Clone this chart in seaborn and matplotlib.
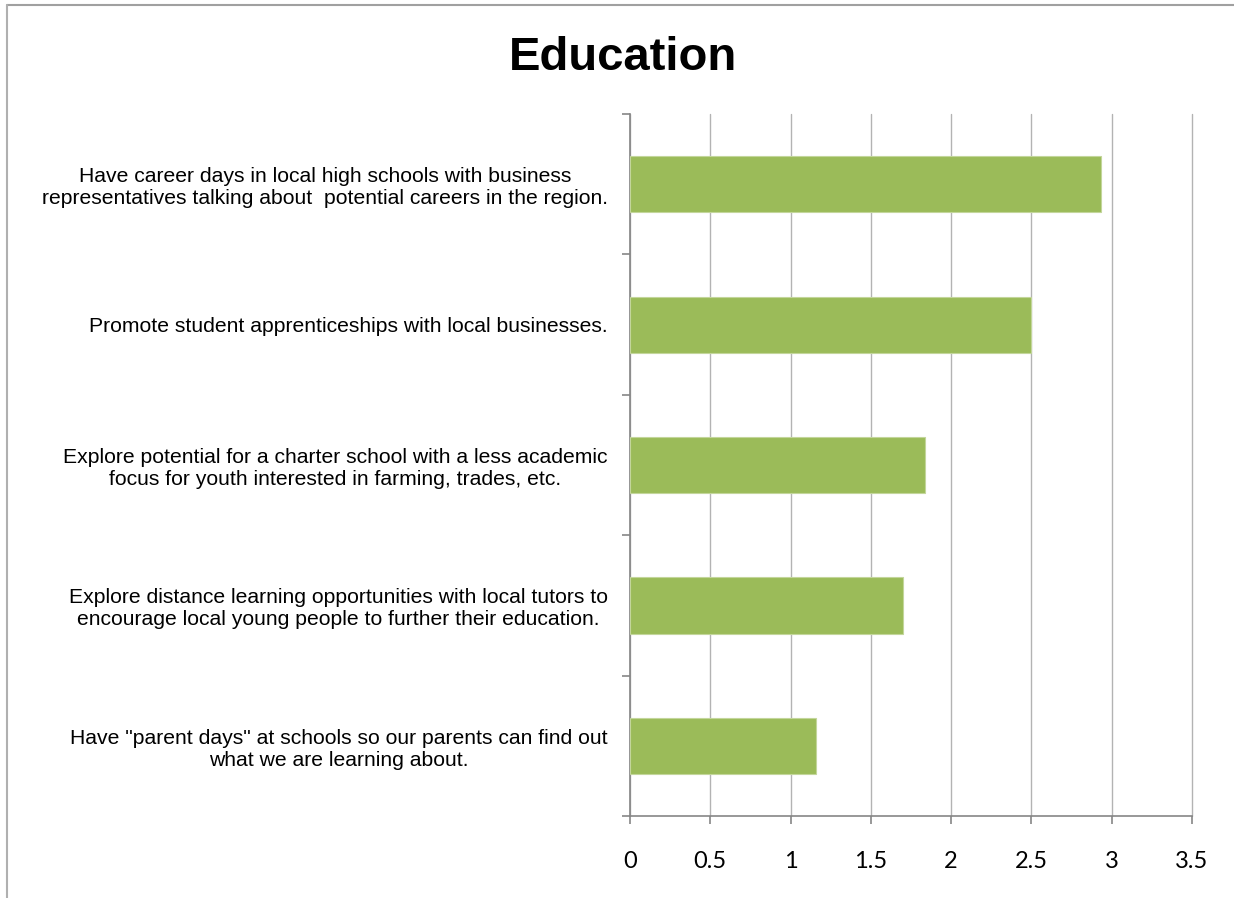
import matplotlib
matplotlib.use("Agg")
import matplotlib.pyplot as plt
from matplotlib.lines import Line2D
from matplotlib.ticker import FixedLocator
import seaborn as sns
import pandas as pd

# Survey items and their average scores
categories = [
    "Have career days in local high schools with business\nrepresentatives talking about  potential careers in the region.",
    "Promote student apprenticeships with local businesses.",
    "Explore potential for a charter school with a less academic\nfocus for youth interested in farming, trades, etc.",
    "Explore distance learning opportunities with local tutors to\nencourage local young people to further their education.",
    "Have \"parent days\" at schools so our parents can find out\nwhat we are learning about.",
]
scores = [2.93, 2.50, 1.84, 1.70, 1.16]
x_ticks = [0, 0.5, 1, 1.5, 2, 2.5, 3, 3.5]
x_tick_labels = ["0", "0.5", "1", "1.5", "2", "2.5", "3", "3.5"]
title = "Education"

df = pd.DataFrame({"item": categories, "score": scores})

sns.set_theme(style="white")
plt.rcParams["font.family"] = ["Liberation Sans", "DejaVu Sans"]

fig = plt.figure(figsize=(12.34, 8.98), dpi=100)
ax = fig.add_axes([0.5105, 0.0913, 0.4555, 0.7817])

sns.barplot(data=df, x="score", y="item", orient="h", color="#9BBB59",
            saturation=1, width=0.4, ax=ax, zorder=3)
for p in ax.patches:
    p.set_edgecolor("#C3D69B")
    p.set_linewidth(0.8)

ax.set_xlim(0, 3.5)
ax.set_ylim(len(categories) - 0.5, -0.5)
ax.set_xticks(x_ticks)
ax.set_xticklabels(x_tick_labels, fontfamily="Lato", fontsize=17)
ax.set_xlabel("")
ax.set_ylabel("")

# Vertical gridlines (kept unclipped so the 3.5 line shows at the edge)
ax.grid(axis="x", color="#B3B3B3", linewidth=1.0, zorder=0)
ax.grid(axis="y", visible=False)
for gl in ax.get_xgridlines():
    gl.set_clip_on(False)
ax.set_axisbelow(True)

# Spines
for side in ["top", "right"]:
    ax.spines[side].set_visible(False)
for side in ["left", "bottom"]:
    ax.spines[side].set_visible(True)
    ax.spines[side].set_color("#868686")
    ax.spines[side].set_linewidth(1.2)

# Category labels (no ticks), with tick marks at category boundaries
ax.tick_params(axis="y", which="major", length=0, pad=16, labelsize=15.2,
               labelcolor="black")
for lbl in ax.get_yticklabels():
    lbl.set_multialignment("center")
ax.yaxis.set_minor_locator(FixedLocator([i - 0.5 for i in range(len(categories) + 1)]))
ax.tick_params(axis="y", which="minor", left=True, length=6, width=1.2, color="#868686")
ax.tick_params(axis="x", which="major", bottom=True, length=6, width=1.2,
               color="#868686", pad=19, labelcolor="black")

fig.suptitle(title, x=0.505, y=0.96, fontsize=34, fontweight="bold",
             va="top", color="black")

# Slide frame lines along top and left edges
fig.add_artist(Line2D([7 / 1234, 1.0], [1 - 5 / 898, 1 - 5 / 898],
                      transform=fig.transFigure, color="#A0A0A0", linewidth=1.5))
fig.add_artist(Line2D([7 / 1234, 7 / 1234], [0.0, 1 - 5 / 898],
                      transform=fig.transFigure, color="#B0B0B0", linewidth=1.5))

fig.savefig("out.png", dpi=100, facecolor="white")
